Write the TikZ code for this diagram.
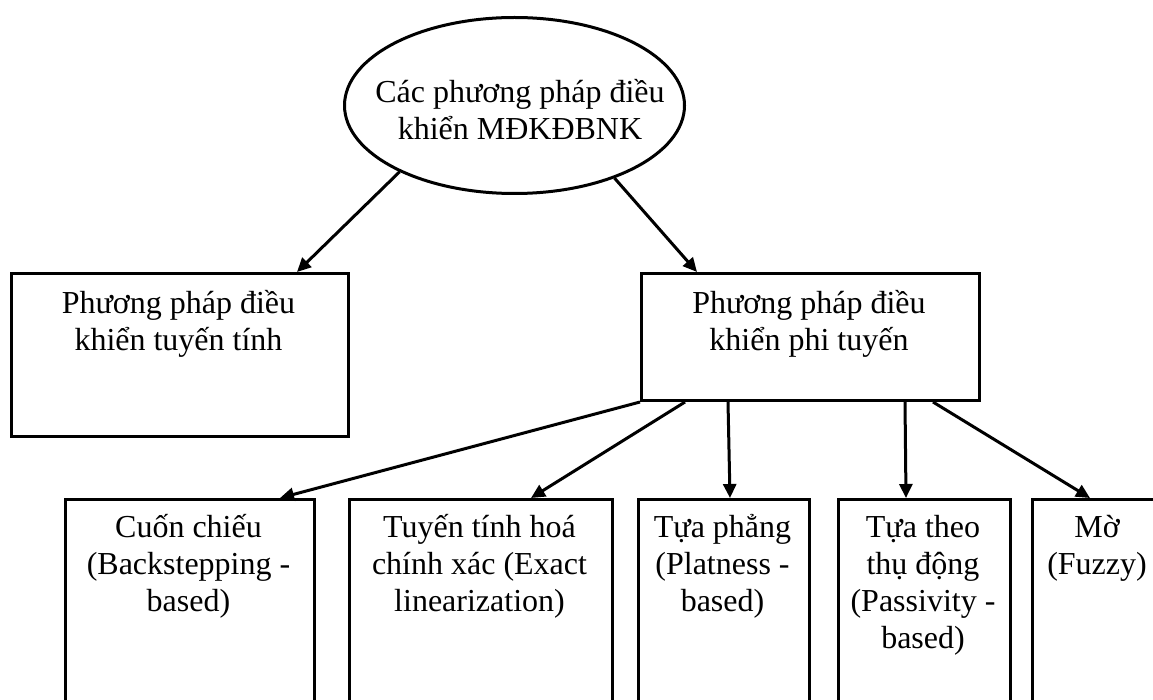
\documentclass[tikz,border=0pt]{standalone}
\usepackage{fontspec}
\setmainfont{Liberation Serif}
\usetikzlibrary{arrows.meta,calc,shapes.geometric}
\begin{document}
\lineskiplimit=-40pt
\begin{tikzpicture}[x=1pt,y=-1pt,
  box/.style={draw, line width=3pt, rectangle, inner sep=0pt, anchor=north west},
  txt/.style={font=\fontsize{32}{37}\selectfont, align=center, inner sep=0pt, anchor=north},
  arr/.style={line width=3pt, -{Triangle[length=14pt,width=13pt]}}]
\useasboundingbox (0,0) rectangle (1153,700);
\fill[white] (0,0) rectangle (1153,700);
\clip (0,0) rectangle (1153,700);
% root
\node[ellipse, draw, line width=3pt, minimum width=340pt, minimum height=176pt, inner sep=0pt] (root) at (514.5,105.5) {};
\node[txt] (roott) at (520,70) {\rule{0pt}{32pt}Các phương pháp điều\\khiển MĐKĐBNK};
% level 2
\node[box, minimum width=337pt, minimum height=163pt] (lin) at (10,272) {};
\node[txt] (lint) at (178.5,281) {\rule{0pt}{32pt}Phương pháp điều\\khiển tuyến tính};
\node[box, minimum width=338pt, minimum height=127pt] (non) at (640,272) {};
\node[txt] (nont) at (809,281) {\rule{0pt}{32pt}Phương pháp điều\\khiển phi tuyến};
% level 3
\node[box, minimum width=249pt, minimum height=230pt] (b1) at (64,498) {};
\node[txt] (b1t) at (188.5,505) {\rule{0pt}{32pt}Cuốn chiếu\\(Backstepping -\\based)};
\node[box, minimum width=263pt, minimum height=230pt] (b2) at (348,498) {};
\node[txt] (b2t) at (479.5,505) {\rule{0pt}{32pt}Tuyến tính hoá\\chính xác (Exact\\linearization)};
\node[box, minimum width=171pt, minimum height=230pt] (b3) at (637,498) {};
\node[txt] (b3t) at (722.5,505) {\rule{0pt}{32pt}Tựa phẳng\\(Platness -\\based)};
\node[box, minimum width=172pt, minimum height=230pt] (b4) at (837,498) {};
\node[txt] (b4t) at (923,505) {\rule{0pt}{32pt}Tựa theo\\thụ động\\(Passivity -\\based)};
\node[box, minimum width=140pt, minimum height=230pt] (b5) at (1031,498) {};
\node[txt] (b5t) at (1097,505) {\rule{0pt}{32pt}Mờ\\(Fuzzy)};
% connectors
\draw[arr] (root.210.6) -- ($(lin.north west)+(287,0)$);
\draw[arr] (root.-36.4) -- ($(non.north west)+(57,0)$);
\draw[arr] (non.south west) -- ($(b1.north west)+(216,0)$);
\draw[arr] ($(non.south west)+(45,0)$) -- ($(b2.north west)+(183,0)$);
\draw[arr] ($(non.south west)+(88,0)$) -- ($(b3.north west)+(93,0)$);
\draw[arr] ($(non.south west)+(265,0)$) -- ($(b4.north west)+(69,0)$);
\draw[arr] ($(non.south west)+(293,0)$) -- ($(b5.north west)+(59,0)$);
\end{tikzpicture}
\end{document}
